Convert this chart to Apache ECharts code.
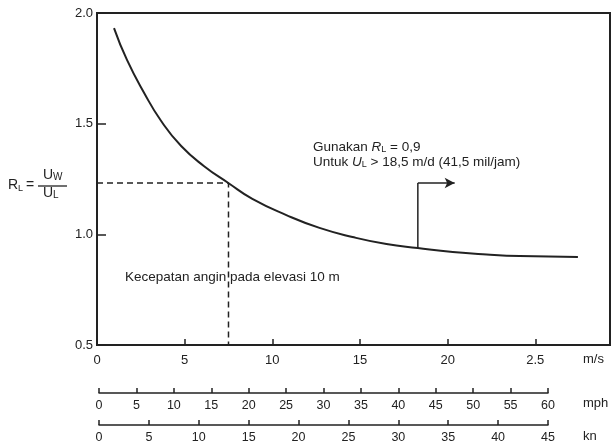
<!DOCTYPE html>
<html>
<head>
<meta charset="utf-8">
<script src="https://cdn.jsdelivr.net/npm/echarts@6/dist/echarts.min.js"></script>
<style>
  html, body { margin: 0; padding: 0; background: #fff; }
  #chart { width: 614px; height: 444px; }
</style>
</head>
<body>
<div id="chart"></div>
<script>
// kurva R_L terhadap kecepatan angin (m/s)
var curveX = [0.97, 1.71, 2.69, 3.66, 4.8, 6.11, 7.49, 8.86, 10.8, 12.69, 14.57, 16.51, 18.29, 20.29, 22.23, 24.11, 27.43];
var curveY = [1.932, 1.788, 1.639, 1.512, 1.399, 1.308, 1.232, 1.16, 1.087, 1.029, 0.988, 0.956, 0.938, 0.92, 0.909, 0.902, 0.898];
// garis putus-putus pada 10 m
var guideX = [0, 7.5, 7.5];
var guideY = [1.232, 1.232, 0.5];
// panah "Gunakan R_L = 0,9"
var arrowX = [18.3, 18.3, 20.4];
var arrowY = [0.938, 1.232, 1.232];
// label sumbu
var msLabels = ['0', '5', '10', '15', '20', '2.5'];
var yLabels = ['0.5', '1.0', '1.5', '2.0'];
var mphTicks = [0, 5, 10, 15, 20, 25, 30, 35, 40, 45, 50, 55, 60];
var knTicks = [0, 5, 10, 15, 20, 25, 30, 35, 40, 45];

var FONT = "'Liberation Sans', Arial, sans-serif";
var INK = '#222';

var chart = echarts.init(document.getElementById('chart'));

function pairs(xs, ys) {
  return xs.map(function (x, i) { return [x, ys[i]]; });
}

function scaleAxis(idx, ticks) {
  return {
    type: 'value',
    gridIndex: idx,
    min: ticks[0],
    max: ticks[ticks.length - 1],
    interval: ticks[1] - ticks[0],
    axisLine: { show: true, lineStyle: { color: INK, width: 1.5 } },
    axisTick: { show: true, inside: true, length: 5, lineStyle: { color: INK, width: 1.5 } },
    axisLabel: { margin: 6, color: INK, fontFamily: FONT, fontSize: 12.5, showMinLabel: true, showMaxLabel: true },
    splitLine: { show: false }
  };
}

function hiddenY(idx) {
  return { type: 'value', gridIndex: idx, show: false, min: 0, max: 1 };
}

var richSub = {
  n: { fontFamily: FONT, fontSize: 13.5, fill: INK },
  i: { fontFamily: FONT, fontSize: 13.5, fontStyle: 'italic', fill: INK },
  s: { fontFamily: FONT, fontSize: 9, padding: [6, 0, 0, 0], fill: INK }
};

chart.setOption({
  animation: false,
  backgroundColor: '#fff',
  grid: [
    { left: 97, top: 13, right: 4, height: 332, show: true, borderColor: INK, borderWidth: 2, backgroundColor: 'transparent' },
    { left: 99, top: 392, width: 449, height: 1 },
    { left: 99, top: 424, width: 449, height: 1 }
  ],
  xAxis: [
    {
      type: 'value',
      gridIndex: 0,
      min: 0,
      max: 29.26,
      interval: 5,
      axisLine: { show: true, lineStyle: { color: INK, width: 2 } },
      axisTick: { show: true, inside: true, length: 6, lineStyle: { color: INK, width: 1.5 } },
      axisLabel: {
        margin: 9, color: INK, fontFamily: FONT, fontSize: 13, showMaxLabel: false,
        formatter: function (v) { return msLabels[Math.round(v / 5)] || ''; }
      },
      splitLine: { show: false }
    },
    scaleAxis(1, mphTicks),
    scaleAxis(2, knTicks)
  ],
  yAxis: [
    {
      type: 'value',
      gridIndex: 0,
      min: 0.5,
      max: 2.0,
      interval: 0.5,
      axisLine: { show: true, lineStyle: { color: INK, width: 2 } },
      axisTick: { show: true, inside: true, length: 9, lineStyle: { color: INK, width: 1.5 } },
      axisLabel: {
        margin: 4, color: INK, fontFamily: FONT, fontSize: 13,
        formatter: function (v) { return yLabels[Math.round((v - 0.5) / 0.5)]; }
      },
      splitLine: { show: false }
    },
    hiddenY(1),
    hiddenY(2)
  ],
  series: [
    {
      type: 'line',
      xAxisIndex: 0,
      yAxisIndex: 0,
      smooth: 0.5,
      symbol: 'none',
      lineStyle: { color: INK, width: 2 },
      data: pairs(curveX, curveY)
    },
    {
      type: 'line',
      xAxisIndex: 0,
      yAxisIndex: 0,
      symbol: 'none',
      lineStyle: { color: INK, width: 1.5, type: [6, 4] },
      data: pairs(guideX, guideY)
    },
    {
      type: 'line',
      xAxisIndex: 0,
      yAxisIndex: 0,
      symbol: 'none',
      lineStyle: { color: INK, width: 1.5 },
      data: pairs(arrowX.slice(0, 2), arrowY.slice(0, 2)),
      markLine: {
        silent: true,
        symbol: ['none', 'arrow'],
        symbolSize: [8, 10],
        label: { show: false },
        lineStyle: { color: INK, width: 1.5, type: 'solid' },
        data: [[
          { coord: [arrowX[1], arrowY[1]] },
          { coord: [arrowX[2], arrowY[2]] }
        ]]
      }
    }
  ],
  graphic: [
    // satuan
    { type: 'text', left: 583, top: 353, style: { text: 'm/s', fontFamily: FONT, fontSize: 13, fill: INK } },
    { type: 'text', left: 583, top: 397, style: { text: 'mph', fontFamily: FONT, fontSize: 13, fill: INK } },
    { type: 'text', left: 583, top: 430, style: { text: 'kn', fontFamily: FONT, fontSize: 13, fill: INK } },
    // anotasi
    { type: 'text', left: 313, top: 140, style: { text: '{n|Gunakan }{i|R}{s|L}{n| = 0,9}', rich: richSub } },
    { type: 'text', left: 313, top: 155, style: { text: '{n|Untuk }{i|U}{s|L}{n| > 18,5 m/d (41,5 mil/jam)}', rich: richSub } },
    {
      type: 'text', left: 125, top: 270,
      style: { text: 'Kecepatan angin pada elevasi 10 m', fontFamily: FONT, fontSize: 13.5, fill: INK }
    },
    // R_L = U_W / U_L
    {
      type: 'text', left: 8, top: 178,
      style: {
        text: '{n|R}{s|L}{e|=}',
        rich: {
          n: { fontFamily: FONT, fontSize: 14, fill: INK },
          s: { fontFamily: FONT, fontSize: 9, padding: [7, 0, 0, 0], fill: INK },
          e: { fontFamily: FONT, fontSize: 14, fill: INK, padding: [0, 0, 0, 3] }
        }
      }
    },
    {
      type: 'text', left: 43, top: 168,
      style: {
        text: '{n|U}{s|W}',
        rich: {
          n: { fontFamily: FONT, fontSize: 14, fill: INK },
          s: { fontFamily: FONT, fontSize: 10, padding: [5, 0, 0, 0], fill: INK }
        }
      }
    },
    { type: 'line', shape: { x1: 38, y1: 186, x2: 67, y2: 186 }, style: { stroke: INK, lineWidth: 1.3 } },
    {
      type: 'text', left: 43, top: 186,
      style: {
        text: '{n|U}{s|L}',
        rich: {
          n: { fontFamily: FONT, fontSize: 14, fill: INK },
          s: { fontFamily: FONT, fontSize: 10, padding: [5, 0, 0, 0], fill: INK }
        }
      }
    }
  ]
});
</script>
</body>
</html>
